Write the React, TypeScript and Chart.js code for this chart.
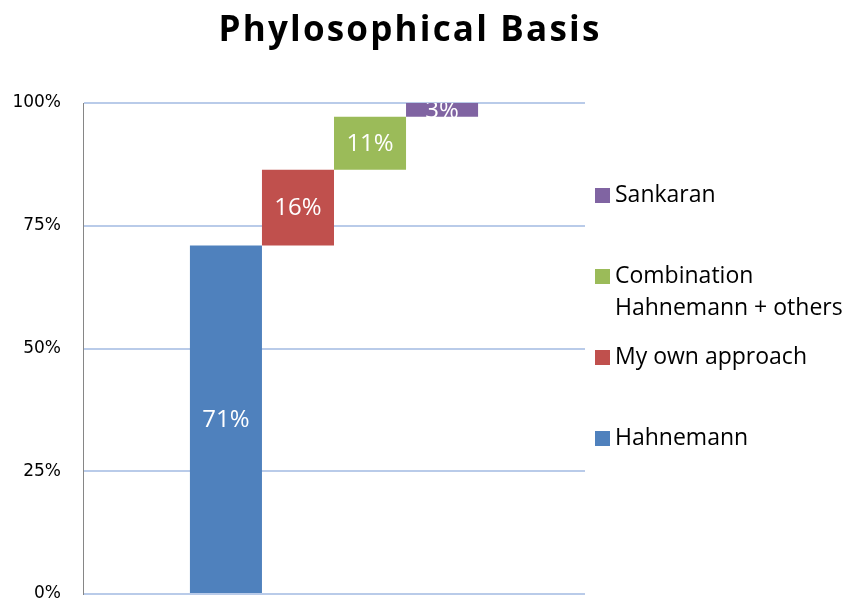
import React, { useEffect, useRef } from 'react';
import { Chart, registerables } from 'chart.js';

Chart.register(...registerables);

const chartTitle = 'Phylosophical Basis';
const seriesNames = ['Hahnemann', 'My own approach', 'Combination Hahnemann + others', 'Sankaran'];
const legendLines = [['Hahnemann'], ['My own approach'], ['Combination', 'Hahnemann + others'], ['Sankaran']];
const barStart = [0, 71, 86.4, 97.2];
const barEnd = [71, 86.4, 97.2, 100];
const valueLabels = ['71%', '16%', '11%', '3%'];
const seriesColors = ['#4f81bd', '#c0504d', '#9bbb59', '#8064a2'];
const yTicks = [0, 25, 50, 75, 100];

const titlePlugin = {
  id: 'customTitle',
  afterDraw(chart: any) {
    const ctx = chart.ctx;
    ctx.save();
    ctx.font = 'bold 35px "Open Sans"';
    (ctx as any).letterSpacing = '2.2px';
    ctx.fillStyle = '#000';
    ctx.textAlign = 'center';
    ctx.textBaseline = 'alphabetic';
    ctx.fillText(chartTitle, 410, 41);
    ctx.restore();
  },
};

const dataLabelPlugin = {
  id: 'dataLabels',
  afterDatasetsDraw(chart: any) {
    const ctx = chart.ctx;
    const a = chart.chartArea;
    ctx.save();
    ctx.beginPath();
    ctx.rect(a.left, a.top, a.right - a.left, a.bottom - a.top);
    ctx.clip();
    ctx.font = '24px "Open Sans"';
    ctx.fillStyle = '#fff';
    ctx.textAlign = 'center';
    ctx.textBaseline = 'middle';
    chart.data.datasets.forEach((ds: any, i: number) => {
      const el = chart.getDatasetMeta(i).data[0];
      if (!el) return;
      const { x, y, base } = el.getProps(['x', 'y', 'base'], true);
      ctx.fillText(valueLabels[i], x, (y + base) / 2 + 1);
    });
    ctx.restore();
  },
};

const legendPlugin = {
  id: 'sideLegend',
  afterDraw(chart: any) {
    const ctx = chart.ctx;
    ctx.save();
    ctx.font = '23px "Open Sans"';
    ctx.textBaseline = 'middle';
    ctx.textAlign = 'left';
    const order = [3, 2, 1, 0];
    order.forEach((idx, k) => {
      const yc = 195 + k * 81;
      ctx.fillStyle = seriesColors[idx];
      ctx.fillRect(595, yc - 7, 15, 15);
      ctx.fillStyle = '#000';
      legendLines[idx].forEach((line, j) => {
        ctx.fillText(line, 615, yc + j * 32);
      });
    });
    ctx.restore();
  },
};

export default function App() {
  const ref = useRef<HTMLCanvasElement>(null);
  useEffect(() => {
    document.body.style.margin = '0';
    const chart = new Chart(ref.current!, {
      type: 'bar',
      data: {
        labels: [''],
        datasets: seriesNames.map((name, i) => ({
          label: name,
          data: [[barStart[i], barEnd[i]]] as any,
          backgroundColor: seriesColors[i],
          borderWidth: 0,
          categoryPercentage: 0.574,
          barPercentage: 1,
        })),
      },
      options: {
        animation: false,
        responsive: true,
        maintainAspectRatio: false,
        layout: { padding: { top: 103, right: 259, left: 0, bottom: 9 } },
        plugins: {
          legend: { display: false },
          title: { display: false },
          tooltip: { enabled: false },
        },
        scales: {
          x: {
            display: false,
            offset: true,
          },
          y: {
            min: 0,
            max: 100,
            afterBuildTicks: (s: any) => {
              s.ticks = yTicks.map((v) => ({ value: v }));
            },
            ticks: {
              callback: (v: any) => v + '%',
              font: { family: 'DejaVu Sans', size: 17 },
              color: '#000',
              padding: 22,
            },
            grid: { color: '#b9cbe9', lineWidth: 2, drawTicks: false },
            border: { color: '#868686', width: 1 },
            afterFit: (s: any) => {
              s.width = 83;
              s.paddingTop = 0;
              s.paddingBottom = 0;
            },
          },
        },
      },
      plugins: [titlePlugin, dataLabelPlugin, legendPlugin],
    });
    return () => chart.destroy();
  }, []);
  return (
    <div style={{ width: 844, height: 603, position: 'relative' }}>
      <canvas ref={ref} />
    </div>
  );
}
